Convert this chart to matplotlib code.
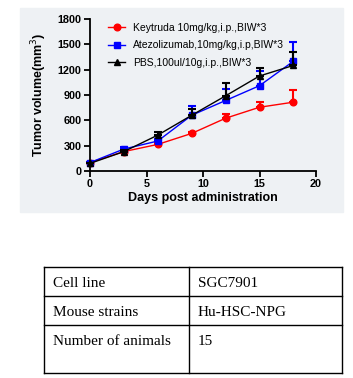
import matplotlib.pyplot as plt
from matplotlib.patches import Rectangle
import numpy as np

days = [0, 3, 6, 9, 12, 15, 18]

keytruda = [100, 230, 315, 445, 625, 755, 815]
keytruda_err = [10, 15, 15, 20, 55, 65, 150]

atezo = [100, 260, 355, 660, 835, 1010, 1300]
atezo_err = [10, 30, 20, 110, 135, 175, 230]

pbs = [90, 230, 425, 660, 890, 1125, 1250]
pbs_err = [10, 15, 35, 80, 150, 100, 165]

labels = ['Keytruda 10mg/kg,i.p.,BIW*3',
          'Atezolizumab,10mg/kg,i.p,BIW*3',
          'PBS,100ul/10g,i.p.,BIW*3']

table_keys = ['Cell line', 'Mouse strains', 'Number of animals']
table_vals = ['SGC7901', 'Hu-HSC-NPG', '15']

W, H = 353, 378
fig = plt.figure(figsize=(W / 100, H / 100), dpi=100)

# light grey panel behind the graph
fig.add_artist(Rectangle((20 / W, 1 - 212 / H), 323 / W, 204 / H,
                         transform=fig.transFigure, color='#eef1f4', zorder=0))

ax = fig.add_axes([90 / W, 1 - 171 / H, 226 / W, 152 / H])
ax.set_facecolor('none')

series = [(keytruda, keytruda_err, 'red', 'o'),
          (atezo, atezo_err, 'blue', 's'),
          (pbs, pbs_err, 'black', '^')]
for (vals, err, c, m), lab in zip(series, labels):
    lower = np.zeros(len(err))
    ax.errorbar(days, vals, yerr=[lower, err], fmt='none', ecolor=c,
                elinewidth=1.5, capsize=3, capthick=1.5, clip_on=False)
    ax.plot(days, vals, color=c, marker=m, markersize=4.8, linewidth=1,
            label=lab, clip_on=False)

ax.set_xlim(0, 20)
ax.set_ylim(0, 1800)
ax.set_xticks([0, 5, 10, 15, 20])
ax.set_yticks(range(0, 1801, 300))
for s in ['top', 'right']:
    ax.spines[s].set_visible(False)
for s in ['left', 'bottom']:
    ax.spines[s].set_linewidth(1.3)
ax.tick_params(direction='out', length=4, width=1.3, labelsize=7.8, pad=2)
for t in ax.get_xticklabels() + ax.get_yticklabels():
    t.set_fontweight('bold')
    t.set_family('Liberation Sans')

ax.set_xlabel('Days post administration', fontsize=9, fontweight='bold',
              family='Liberation Sans', labelpad=2)
ax.set_ylabel('Tumor volume(mm$^3$)', fontsize=9, fontweight='bold',
              family='Liberation Sans', labelpad=6)

leg = ax.legend(loc='upper left', bbox_to_anchor=(0.04, 1.035), frameon=False,
                handlelength=1.6, handletextpad=0.75, labelspacing=0.7,
                prop={'family': 'Liberation Sans', 'size': 7.5})

# table below the chart
tx = fig.add_axes([0, 0, 1, 1])
tx.set_xlim(0, W)
tx.set_ylim(H, 0)
tx.axis('off')
left, mid, right = 44, 189, 342
rows = [267, 296, 325, 373]
for y in rows:
    tx.plot([left, right], [y, y], color='black', lw=1)
for x in [left, mid, right]:
    tx.plot([x, x], [rows[0], rows[-1]], color='black', lw=1)
for i, (k, v) in enumerate(zip(table_keys, table_vals)):
    y = rows[i] + 20
    tx.text(left + 9, y, k, family='Liberation Serif', fontsize=11, va='baseline')
    tx.text(mid + 9, y, v, family='Liberation Serif', fontsize=11, va='baseline')

fig.savefig('out.png', dpi=100)
